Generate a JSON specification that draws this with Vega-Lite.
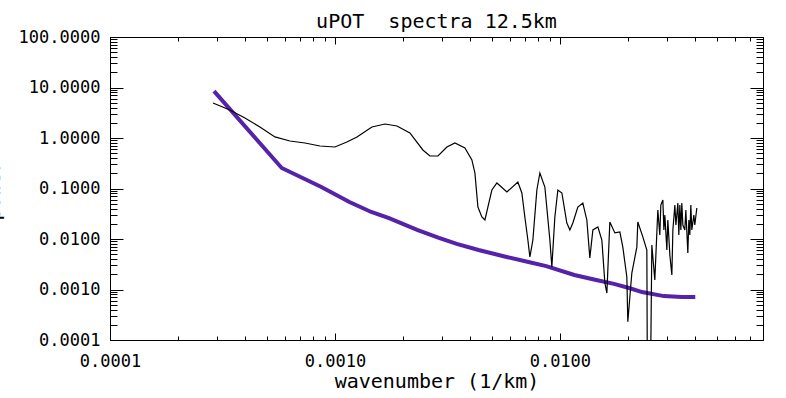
{
  "$schema": "https://vega.github.io/schema/vega-lite/v6.json",
  "width": 653,
  "height": 303,
  "autosize": {"type": "none"},
  "padding": {"left": 110, "top": 37, "right": 23, "bottom": 58},
  "background": "white",
  "title": {"text": "uPOT\u00a0 spectra 12.5km", "font": "DejaVu Sans Mono", "fontSize": 20, "fontWeight": "normal", "color": "black", "anchor": "middle", "baseline": "alphabetic", "offset": -20},
  "config": {
    "view": {"stroke": null},
    "axis": {"domainColor": "black", "domainWidth": 1, "tickColor": "black", "tickWidth": 1, "labelFont": "DejaVu Sans Mono", "labelFontSize": 17, "labelColor": "black", "grid": false, "labelOverlap": false, "labelFlush": false, "labelBound": false, "titleFont": "DejaVu Sans Mono", "titleFontSize": 20, "titleFontWeight": "normal", "titleColor": "black", "gridColor": "black", "gridWidth": 1}
  },
  "layer": [
    {
      "data": {"values": [
        {"k": 0.00029, "p": 8.5}, {"k": 0.00058, "p": 0.255}, {"k": 0.00087, "p": 0.107}, {"k": 0.00116, "p": 0.054},
        {"k": 0.00145, "p": 0.0343}, {"k": 0.00174, "p": 0.026}, {"k": 0.00232, "p": 0.0151}, {"k": 0.0029, "p": 0.0105},
        {"k": 0.00348, "p": 0.008}, {"k": 0.00435, "p": 0.00605}, {"k": 0.0058, "p": 0.0044}, {"k": 0.00725, "p": 0.0035},
        {"k": 0.0087, "p": 0.0029}, {"k": 0.0116, "p": 0.00194}, {"k": 0.0145, "p": 0.00154}, {"k": 0.0174, "p": 0.00129},
        {"k": 0.0203, "p": 0.00107}, {"k": 0.0232, "p": 0.00089}, {"k": 0.029, "p": 0.00074}, {"k": 0.0348, "p": 0.00071},
        {"k": 0.04, "p": 0.00071}
      ]},
      "mark": {"type": "line", "color": "#5522aa", "strokeWidth": 4, "clip": true},
      "encoding": {
        "x": {"field": "k", "type": "quantitative", "scale": {"type": "log", "domain": [0.0001, 0.08]},
          "axis": {"orient": "top", "labels": false, "title": null, "tickSize": -4,
            "values": [0.0001,0.0002,0.0003,0.0004,0.0005,0.0006,0.0007,0.0008,0.0009,0.001,0.002,0.003,0.004,0.005,0.006,0.007,0.008,0.009,0.01,0.02,0.03,0.04,0.05,0.06,0.07]}},
        "y": {"field": "p", "type": "quantitative", "scale": {"type": "log", "domain": [0.0001, 100]},
          "axis": {"orient": "right", "labels": false, "title": null, "tickSize": -7,
            "values": [0.0001,0.0002,0.0003,0.0004,0.0005,0.0006,0.0007,0.0008,0.0009,0.001,0.002,0.003,0.004,0.005,0.006,0.007,0.008,0.009,0.01,0.02,0.03,0.04,0.05,0.06,0.07,0.08,0.09,0.1,0.2,0.3,0.4,0.5,0.6,0.7,0.8,0.9,1,2,3,4,5,6,7,8,9,10,20,30,40,50,60,70,80,90,100]}}
      }
    },
    {
      "data": {"values": [
        {"k": 0.000287, "p": 4.93}, {"k": 0.000341, "p": 3.59}, {"k": 0.000398, "p": 2.49}, {"k": 0.000464, "p": 1.65},
        {"k": 0.000541, "p": 1.05}, {"k": 0.000631, "p": 0.872}, {"k": 0.000736, "p": 0.796}, {"k": 0.000858, "p": 0.694},
        {"k": 0.001, "p": 0.663}, {"k": 0.00113, "p": 0.833}, {"k": 0.001253, "p": 1.047}, {"k": 0.00146, "p": 1.651},
        {"k": 0.00167, "p": 1.893}, {"k": 0.001887, "p": 1.728}, {"k": 0.002154, "p": 1.256}, {"k": 0.00246, "p": 0.579},
        {"k": 0.002645, "p": 0.44}, {"k": 0.00287, "p": 0.44}, {"k": 0.003146, "p": 0.663}, {"k": 0.003415, "p": 0.796},
        {"k": 0.003783, "p": 0.634}, {"k": 0.004063, "p": 0.367}, {"k": 0.004191, "p": 0.203}, {"k": 0.004322, "p": 0.043},
        {"k": 0.004501, "p": 0.0273}, {"k": 0.004642, "p": 0.0238}, {"k": 0.004786, "p": 0.043}, {"k": 0.004986, "p": 0.0934},
        {"k": 0.005248, "p": 0.1285}, {"k": 0.005813, "p": 0.0852}, {"k": 0.006505, "p": 0.1345}, {"k": 0.006777, "p": 0.0814},
        {"k": 0.006988, "p": 0.0273}, {"k": 0.007207, "p": 0.00955}, {"k": 0.007356, "p": 0.0044}, {"k": 0.007586, "p": 0.00955},
        {"k": 0.007902, "p": 0.0934}, {"k": 0.008149, "p": 0.203}, {"k": 0.008577, "p": 0.107}, {"k": 0.009028, "p": 0.00955},
        {"k": 0.009213, "p": 0.00279}, {"k": 0.0095, "p": 0.0273}, {"k": 0.009796, "p": 0.0934}, {"k": 0.01021, "p": 0.0814},
        {"k": 0.01074, "p": 0.0207}, {"k": 0.01108, "p": 0.0151}, {"k": 0.01142, "p": 0.0207}, {"k": 0.01202, "p": 0.043},
        {"k": 0.01265, "p": 0.0516}, {"k": 0.01318, "p": 0.0238}, {"k": 0.01359, "p": 0.0042}, {"k": 0.01402, "p": 0.0151},
        {"k": 0.01476, "p": 0.0173}, {"k": 0.01537, "p": 0.00955}, {"k": 0.01585, "p": 0.00135}, {"k": 0.01618, "p": 0.00085},
        {"k": 0.01668, "p": 0.0217}, {"k": 0.01756, "p": 0.0132}, {"k": 0.01848, "p": 0.0138}, {"k": 0.01905, "p": 0.0069},
        {"k": 0.01985, "p": 0.00177}, {"k": 0.02005, "p": 0.00023}, {"k": 0.02089, "p": 0.00212}, {"k": 0.02199, "p": 0.0069},
        {"k": 0.02221, "p": 0.0217}, {"k": 0.02338, "p": 0.011}, {"k": 0.02436, "p": 0.00606}, {"k": 0.02461, "p": 0.0000001},
        {"k": 0.02500, "p": 0.0000001}, {"k": 0.02564, "p": 0.00761}, {"k": 0.02643, "p": 0.00154}, {"k": 0.02726, "p": 0.0375},
        {"k": 0.02782, "p": 0.012}, {"k": 0.02811, "p": 0.0471}, {"k": 0.0287, "p": 0.0592}, {"k": 0.029, "p": 0.0151},
        {"k": 0.02929, "p": 0.0299}, {"k": 0.0299, "p": 0.00606}, {"k": 0.0302, "p": 0.0238}, {"k": 0.03083, "p": 0.00482},
        {"k": 0.03147, "p": 0.00194}, {"k": 0.0318, "p": 0.0151}, {"k": 0.03245, "p": 0.0471}, {"k": 0.0328, "p": 0.0189},
        {"k": 0.03346, "p": 0.0516}, {"k": 0.0338, "p": 0.012}, {"k": 0.03415, "p": 0.0471}, {"k": 0.0345, "p": 0.0151},
        {"k": 0.03485, "p": 0.0516}, {"k": 0.03522, "p": 0.0189}, {"k": 0.03594, "p": 0.0151}, {"k": 0.03631, "p": 0.0375},
        {"k": 0.03706, "p": 0.00528}, {"k": 0.03745, "p": 0.0238}, {"k": 0.03783, "p": 0.012}, {"k": 0.03822, "p": 0.0471},
        {"k": 0.03861, "p": 0.0151}, {"k": 0.03941, "p": 0.0299}, {"k": 0.03981, "p": 0.0189}, {"k": 0.04063, "p": 0.0411}
      ]},
      "mark": {"type": "line", "color": "black", "strokeWidth": 1.2, "clip": true},
      "encoding": {
        "x": {"field": "k", "type": "quantitative", "scale": {"type": "log", "domain": [0.0001, 0.08]},
          "axis": {"orient": "bottom", "title": "wavenumber (1/km)", "titlePadding": 2, "tickSize": -4,
            "values": [0.0001,0.0002,0.0003,0.0004,0.0005,0.0006,0.0007,0.0008,0.0009,0.001,0.002,0.003,0.004,0.005,0.006,0.007,0.008,0.009,0.01,0.02,0.03,0.04,0.05,0.06,0.07],
            "labelExpr": "abs(log(datum.value)/LN10 - round(log(datum.value)/LN10)) < 0.0001 ? format(datum.value, '.4f') : ''",
            "labelPadding": 17,
            "grid": true, "gridDash": [7, 289, 7, 100],
            "gridOpacity": {"condition": {"test": "abs(log(datum.value)/LN10 - round(log(datum.value)/LN10)) < 0.0001", "value": 1}, "value": 0}}},
        "y": {"field": "p", "type": "quantitative", "scale": {"type": "log", "domain": [0.0001, 100]},
          "axis": {"orient": "left", "title": "power", "titleX": -111, "titleY": 153, "titleAngle": -90, "titleAlign": "center", "titleBaseline": "alphabetic", "tickSize": -7,
            "values": [0.0001,0.0002,0.0003,0.0004,0.0005,0.0006,0.0007,0.0008,0.0009,0.001,0.002,0.003,0.004,0.005,0.006,0.007,0.008,0.009,0.01,0.02,0.03,0.04,0.05,0.06,0.07,0.08,0.09,0.1,0.2,0.3,0.4,0.5,0.6,0.7,0.8,0.9,1,2,3,4,5,6,7,8,9,10,20,30,40,50,60,70,80,90,100],
            "labelExpr": "abs(log(datum.value)/LN10 - round(log(datum.value)/LN10)) < 0.0001 ? format(datum.value, '.4f') : ''",
            "labelPadding": 17,
            "grid": true, "gridDash": [13, 627, 13, 100],
            "gridOpacity": {"condition": {"test": "abs(log(datum.value)/LN10 - round(log(datum.value)/LN10)) < 0.0001", "value": 1}, "value": 0}}}
      }
    }
  ],
  "resolve": {"axis": {"x": "independent", "y": "independent"}}
}
